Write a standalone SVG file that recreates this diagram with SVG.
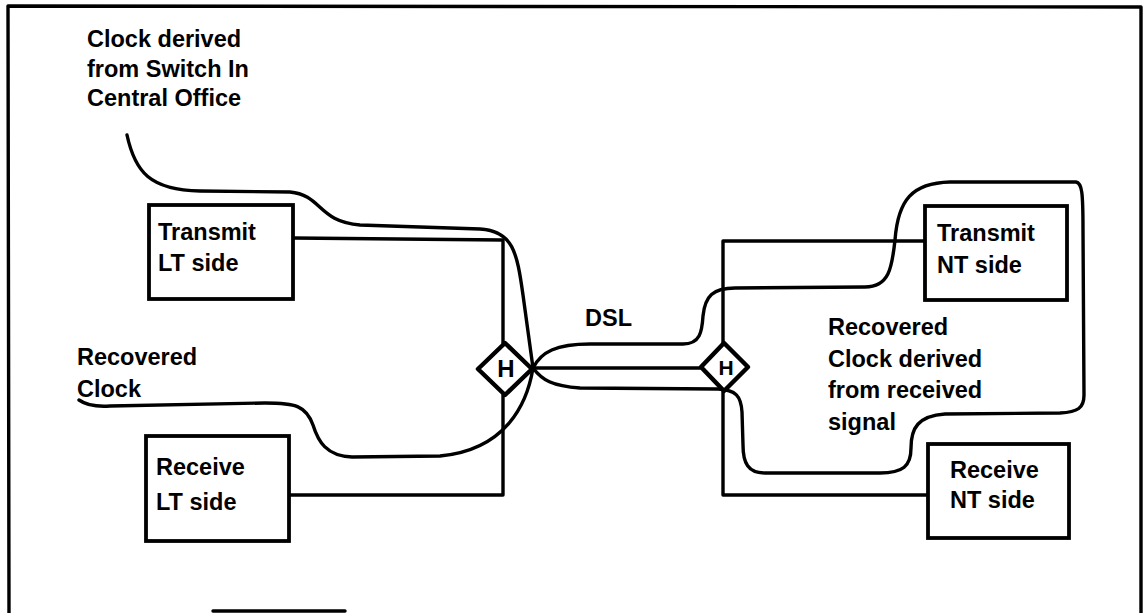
<svg xmlns="http://www.w3.org/2000/svg" width="1146" height="613" viewBox="0 0 1146 613">
<style>
text{font-family:"Liberation Sans",Arial,sans-serif;font-weight:bold;font-size:23.5px;fill:#000}
.box{fill:#fff;stroke:#000;stroke-width:3.8}
.ln{fill:none;stroke:#000;stroke-width:3.4;stroke-linejoin:round;stroke-linecap:round}
.dia{fill:#fff;stroke:#000;stroke-width:4.5;stroke-linejoin:round}
.h{font-size:24px;text-anchor:middle}
</style>
<rect width="1146" height="613" fill="#fff"/>
<g id="frame">
<path class="ln" d="M9,613 L8,6 L1141,7 L1141,613" stroke-width="3.5"/>
<line class="ln" x1="213" y1="611" x2="345" y2="611" stroke-width="2.5"/>
</g>
<g id="connectors">
<path class="ln" d="M293,238 L503,240 L503,343"/>
<path class="ln" d="M503,395 L503,495 L289,495"/>
<path class="ln" d="M925,241 L723,241 L723,343"/>
<path class="ln" d="M723,392 L723,495 L928,495"/>
<path class="ln" d="M533,368 L700,368"/>
<path class="ln" d="M127,135 C135,172 150,190 200,191 L290,192 C322,195 318,222 360,225 L480,229 C513,231 517,252 523,295 L533,368 C527,405 505,450 440,456 L352,457 C326,456 318,441 313,425 C306,406 296,403 265,403 L110,406 C95,407 86,405 79,400"/>
<path class="ln" d="M533,368 C541,352 556,344 590,344 L683,344 C700,344 702,332 703,316 C705,296 713,288 735,288 L865,287 C889,287 892,268 895,240 C898,200 912,183 950,182 L1076,182 C1082,183 1083,192 1083,230 L1084,395 C1084,408 1078,412 1060,413 L945,414 C918,416 911,428 911,448 C911,466 903,473 880,473 L765,473 C748,473 743,463 743,445 L742,412 C741,396 736,390 718,389 L580,388 C552,386 542,380 533,368"/>
<text x="585" y="326">DSL</text>
</g>
<g id="hybrid-lt">
<path class="dia" d="M505,343 L532,369 L505,395 L478,369 Z"/>
<text class="h" x="506" y="377">H</text>
</g>
<g id="hybrid-nt">
<path class="dia" d="M724,343 L748,367 L724,391 L701,367 Z"/>
<text class="h" x="726" y="375" style="font-size:21px">H</text>
</g>
<g id="transmit-lt">
<rect class="box" x="149" y="205" width="144" height="94"/>
<text x="158" y="240">Transmit</text>
<text x="158" y="271">LT side</text>
</g>
<g id="receive-lt">
<rect class="box" x="146" y="436" width="143" height="105"/>
<text x="156" y="475">Receive</text>
<text x="156" y="510">LT side</text>
</g>
<g id="transmit-nt">
<rect class="box" x="925" y="206" width="142" height="94"/>
<text x="937" y="241">Transmit</text>
<text x="937" y="273">NT side</text>
</g>
<g id="receive-nt">
<rect class="box" x="928" y="444" width="141" height="94"/>
<text x="950" y="478">Receive</text>
<text x="950" y="508">NT side</text>
</g>
<g id="label-clock-switch">
<text x="87" y="47">Clock  derived</text>
<text x="87" y="77">from Switch In</text>
<text x="87" y="106">Central Office</text>
</g>
<g id="label-recovered-lt">
<text x="77" y="365">Recovered</text>
<text x="77" y="397">Clock</text>
</g>
<g id="label-recovered-nt">
<text x="828" y="335">Recovered</text>
<text x="828" y="367">Clock derived</text>
<text x="828" y="398">from received</text>
<text x="828" y="430">signal</text>
</g>
</svg>
